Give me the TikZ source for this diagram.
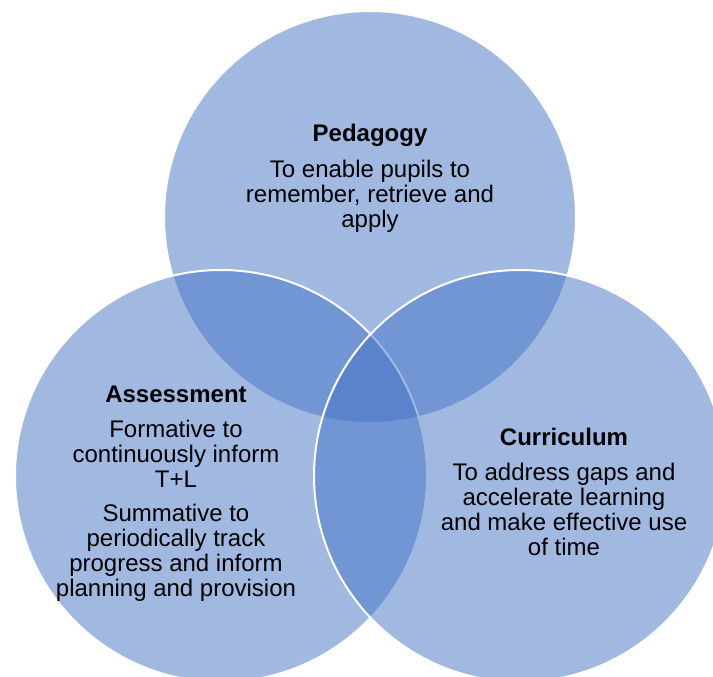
\documentclass[tikz,border=0pt]{standalone}
\usepackage{fontspec}
\setmainfont{Liberation Sans}
\definecolor{vblue}{RGB}{68,114,196}
\begin{document}
\begin{tikzpicture}[x=1pt,y=-1pt,
  venn/.style={circle, minimum size=412pt, inner sep=0pt, fill=vblue, fill opacity=0.5, draw=white, draw opacity=1, line width=2pt},
  ttl/.style={font=\fontsize{24}{25}\selectfont\bfseries, inner sep=0pt},
  body/.style={font=\fontsize{24}{25}\selectfont, align=center, inner sep=0pt}]
\useasboundingbox (0,0) rectangle (713,677);
\clip (0,0) rectangle (713,677);
\node[venn] (ped) at (370,217) {};
\node[venn] (ass) at (221,476) {};
\node[venn] (cur) at (520,476) {};
\node[ttl] (pedT) at (370,135) {Pedagogy};
\node[body] (pedB) at (370,196) {To enable pupils to\\remember, retrieve and\\apply};
\node[ttl] (assT) at (176,394) {Assessment};
\node[body] (assB1) at (176,454) {Formative to\\continuously inform\\T+L};
\node[body] (assB2) at (176,553) {Summative to\\periodically track\\progress and inform\\planning and provision};
\node[ttl] (curT) at (564,437) {Curriculum};
\node[body] (curB) at (564,509) {To address gaps and\\accelerate learning\\and make effective use\\of time};
\end{tikzpicture}
\end{document}
